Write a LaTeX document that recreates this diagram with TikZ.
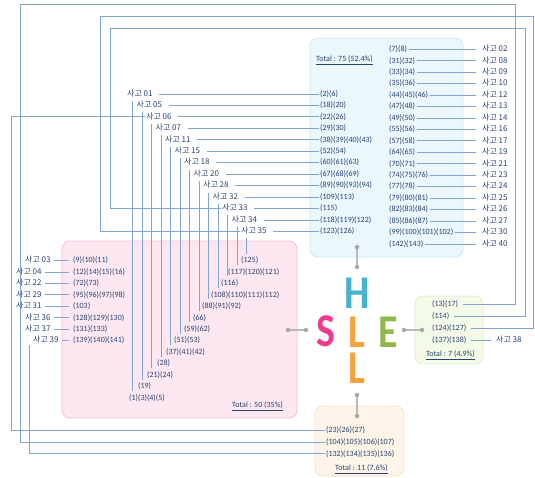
\documentclass[tikz,border=0pt]{standalone}
\usepackage{fontspec}
\usepackage{graphicx}
\setmainfont{Carlito}
\newfontfamily\kr{Noto Sans CJK KR}
\definecolor{navy}{HTML}{284270}
\definecolor{linec}{HTML}{80A4D4}
\definecolor{hfill}{HTML}{EBF7FD}
\definecolor{hdraw}{HTML}{CDE8F6}
\definecolor{pfill}{HTML}{FDE8F2}
\definecolor{pdraw}{HTML}{F8BBD8}
\definecolor{efill}{HTML}{F4FAE8}
\definecolor{edraw}{HTML}{DDEEC6}
\definecolor{ofill}{HTML}{FEF4E7}
\definecolor{odraw}{HTML}{FBE0C2}
\definecolor{hc}{HTML}{46B4D0}
\definecolor{sc}{HTML}{EE3B8E}
\definecolor{lc}{HTML}{F7A13F}
\definecolor{ec}{HTML}{8EB94A}
\definecolor{dotc}{HTML}{A8A8A8}
\begin{document}
\begin{tikzpicture}[x=1pt,y=-1pt,
  num/.style={font=\fontsize{8}{9}\selectfont, text=navy, inner xsep=1.5pt, inner ysep=0pt, text height=6pt, text depth=1.5pt},
  lab/.style={font=\kr\fontsize{8}{9}\selectfont, text=navy, inner xsep=1.5pt, inner ysep=0pt, text height=6pt, text depth=1.5pt},
  lk/.style={draw=linec, line width=0.9pt},
  box/.style={rounded corners=8pt, line width=0.8pt, inner sep=0pt},
  dot/.style={circle, fill=dotc, inner sep=0pt, minimum size=4.5pt},
  gl/.style={draw=dotc!80, line width=1.2pt},
  letter/.style={font=\fontsize{47}{47}\selectfont\bfseries, inner sep=0pt, anchor=base, text height=30pt, text depth=0pt}]
\useasboundingbox (0,0) rectangle (535,477);

% boxes
\node[box, draw=hdraw, fill=hfill, minimum width=153pt, minimum height=219pt] (hbox) at (386.5,147.5) {};
\node[box, draw=pdraw, fill=pfill, minimum width=235pt, minimum height=177pt] (pbox) at (179.5,329.5) {};
\node[box, draw=edraw, fill=efill, minimum width=68pt, minimum height=68pt] (ebox) at (449,330) {};
\node[box, draw=odraw, fill=ofill, minimum width=89pt, minimum height=70pt] (obox) at (359.5,441) {};

% totals
\node[num, anchor=west] (hT) at (314.5,59.5) {\underline{Total : 75 (52.4\%)}};
\node[num, anchor=east] (pT) at (284.5,405.5) {\underline{Total : 50 (35\%)}};
\node[num, anchor=west] (eT) at (424.5,354) {\underline{Total : 7 (4.9\%)}};
\node[num, anchor=west] (oT) at (333.5,468) {\underline{Total : 11 (7.6\%)}};

% H box, right column
\foreach \l/\n [count=\i from 0] in {02/{(7)(8)}, 08/{(31)(32)}, 09/{(33)(34)}, 10/{(35)(36)}, 12/{(44)(45)(46)}, 13/{(47)(48)}, 14/{(49)(50)}, 16/{(55)(56)}, 17/{(57)(58)}, 19/{(64)(65)}, 21/{(70)(71)}, 23/{(74)(75)(76)}, 24/{(77)(78)}, 25/{(79)(80)(81)}, 26/{(82)(83)(84)}, 27/{(85)(86)(87)}, 30/{(99)(100)(101)(102)}, 40/{(142)(143)}} {
  \node[num, anchor=west] (hr\i) at (387.5,49.3+11.45*\i) {\n};
  \node[lab, anchor=west] (hl\i) at (480.5,49.3+11.45*\i) {사고 \l};
  \draw[lk, shorten >=5pt] (hr\i) -- (hl\i);
}

% pink box, right part (targets of the vertical lines)
\foreach \x/\n [count=\k from 0] in {241/{(125)}, 228/{(117)(120)(121)}, 221/{(116)}, 211/{(108)(110)(111)(112)}, 202/{(88)(91)(92)}, 193/{(66)}, 184/{(59)(62)}, 174/{(51)(53)}, 166/{(37)(41)(42)}, 157/{(28)}, 147/{(21)(24)}, 138/{(19)}, 129/{(1)(3)(4)(5)}} {
  \node[num, anchor=west] (pn\k) at (\x-1.5,260.5+11.45*\k) {\n};
}

% H box, left column with staircase labels
\foreach \l/\n [count=\j from 0, evaluate=\j as \k using int(12-\j)] in {01/{(2)(6)}, 05/{(18)(20)}, 06/{(22)(26)}, 07/{(29)(30)}, 11/{(38)(39)(40)(43)}, 15/{(52)(54)}, 18/{(60)(61)(63)}, 20/{(67)(68)(69)}, 28/{(89)(90)(93)(94)}, 32/{(109)(113)}, 33/{(115)}, 34/{(118)(119)(122)}, 35/{(123)(126)}} {
  \node[num, anchor=west] (hn\j) at (318.5,94+11.45*\j) {\n};
  \node[lab, anchor=west] (ha\j) at (125.5+9.5*\j,94+11.45*\j) {사고 \l};
  \draw[lk, shorten <=5pt] (ha\j) -- (hn\j);
  \draw[lk] ([xshift=7pt,yshift=-3pt]ha\j.south west) -- ([xshift=7pt,yshift=3pt]ha\j.south west |- pn\k.north);
}

% pink box, left column
\foreach \x/\l/\n [count=\k from 0] in {25/03/{(9)(10)(11)}, 16/04/{(12)(14)(15)(16)}, 16/22/{(72)(73)}, 16/29/{(95)(96)(97)(98)}, 16/31/{(103)}, 25/36/{(128)(129)(130)}, 25/37/{(131)(133)}, 33/39/{(139)(140)(141)}} {
  \node[lab, anchor=west] (pl\k) at (\x-1.5,260.5+11.45*\k) {사고 \l};
  \node[num, anchor=west] (pm\k) at (71.5,260.5+11.45*\k) {\n};
  \draw[lk, shorten <=2pt, shorten >=3pt] (pl\k) -- (pm\k);
}

% E box
\node[num, anchor=west] (e0) at (430.5,304.5) {(13)(17)};
\node[num, anchor=west] (e1) at (430.5,316.3) {(114)};
\node[num, anchor=west] (e2) at (430.5,328.2) {(124)(127)};
\node[num, anchor=west] (e3) at (430.5,340) {(137)(138)};
\node[lab, anchor=west] (e38) at (494.5,340) {사고 38};
\draw[lk, shorten <=3pt, shorten >=4pt] (e3) -- (e38);

% orange box
\node[num, anchor=west] (o0) at (324.5,430.3) {(23)(26)(27)};
\node[num, anchor=west] (o1) at (324.5,442.3) {(104)(105)(106)(107)};
\node[num, anchor=west] (o2) at (324.5,453.8) {(132)(134)(135)(136)};

% long connectors
\coordinate (xA) at (11,0);
\coordinate (tr1) at (515,4);
\coordinate (tl1) at (20,4);
\coordinate (tl2) at (100,16);
\coordinate (tr2) at (533,16);
\coordinate (tl3) at (110,28);
\coordinate (tr3) at (525,28);
\draw[lk] (ha2.west) -- (ha2.west -| xA) |- (o0.west);
\draw[lk, shorten <=3pt] (e0.east) -| (tr1) -- (tl1) |- (o1.west);
\draw[lk] ([xshift=-2pt]pl7.south west) |- (o2.west);
\draw[lk, shorten <=3pt] (e2.east) -| (tr2) -- (tl2) |- (ha12.west);
\draw[lk, shorten <=3pt] (e1.east) -| (tr3) -- (tl3) |- (ha10.west);

% SHLE
\node[letter, text=hc] (H) at (357.5,308) {\scalebox{0.85}[1]{H}};
\node[letter, text=sc] (S) at (325.5,346.5) {\scalebox{0.85}[1]{S}};
\node[letter, text=lc] (L1) at (356.5,347) {\scalebox{0.85}[1]{L}};
\node[letter, text=ec] (E) at (388,347) {\scalebox{0.85}[1]{E}};
\node[letter, text=lc] (L2) at (356.5,383) {\scalebox{0.85}[1]{L}};

% gray connectors
\node[dot] (dh1) at (357,247) {};
\node[dot] (dh2) at (357,267) {};
\draw[gl] (dh1) -- (dh2);
\node[dot] (ds1) at (288,330) {};
\node[dot] (ds2) at (306,330) {};
\draw[gl] (ds1) -- (ds2);
\node[dot] (de1) at (404,330) {};
\node[dot] (de2) at (422,330) {};
\draw[gl] (de1) -- (de2);
\node[dot] (dl1) at (357,395) {};
\node[dot] (dl2) at (357,416) {};
\draw[gl] (dl1) -- (dl2);
\end{tikzpicture}
\end{document}
